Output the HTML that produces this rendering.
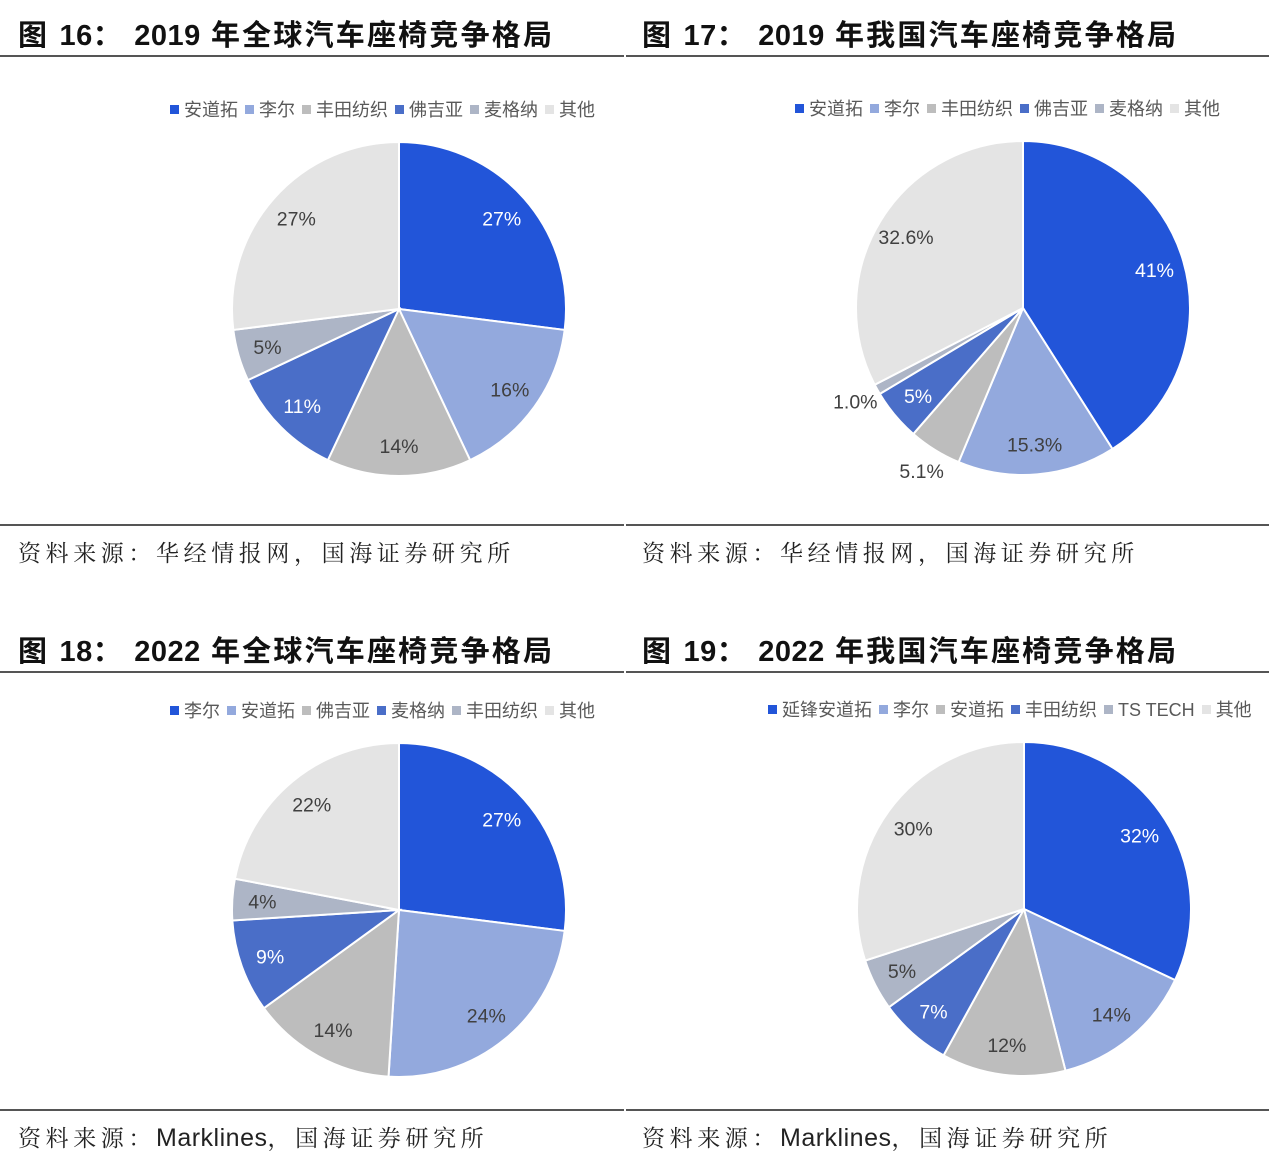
<!DOCTYPE html>
<html><head><meta charset="utf-8">
<style>
body{margin:0;background:#fff;width:1269px;height:1162px;overflow:hidden;position:relative;font-family:"Liberation Sans","Noto Sans CJK SC",sans-serif;}
.t{position:absolute;font-weight:bold;font-size:29px;color:#111;white-space:nowrap;letter-spacing:2.2px;}
.t .d{letter-spacing:0.5px;}
.ln{position:absolute;height:2px;background:#555;}
.src{position:absolute;font-family:"Liberation Serif","Noto Serif CJK SC",serif;font-size:23px;color:#222;white-space:nowrap;letter-spacing:4.6px;}
.src .m{font-family:"Liberation Sans",sans-serif;letter-spacing:0.5px;font-size:25px;}
.lg{position:absolute;font-size:18px;color:#595959;white-space:nowrap;font-family:"Liberation Sans","Noto Sans CJK SC",sans-serif;}
.lg span.sw{display:inline-block;width:9px;height:9px;margin:0 5px 0 7px;vertical-align:2px;}
svg{position:absolute;left:0;top:0;}
</style></head><body>
<div class="t" style="left:18px;top:12px">图 <span class="d">16</span>： <span class="d">2019</span> 年全球汽车座椅竞争格局</div>
<div class="t" style="left:642px;top:12px">图 <span class="d">17</span>： <span class="d">2019</span> 年我国汽车座椅竞争格局</div>
<div class="t" style="left:18px;top:628px">图 <span class="d">18</span>： <span class="d">2022</span> 年全球汽车座椅竞争格局</div>
<div class="t" style="left:642px;top:628px">图 <span class="d">19</span>： <span class="d">2022</span> 年我国汽车座椅竞争格局</div>
<div class="ln" style="left:0;width:624px;top:55px"></div>
<div class="ln" style="left:626px;width:643px;top:55px"></div>
<div class="ln" style="left:0;width:624px;top:524px"></div>
<div class="ln" style="left:626px;width:643px;top:524px"></div>
<div class="ln" style="left:0;width:624px;top:671px"></div>
<div class="ln" style="left:626px;width:643px;top:671px"></div>
<div class="ln" style="left:0;width:624px;top:1109px"></div>
<div class="ln" style="left:626px;width:643px;top:1109px"></div>
<div class="src" style="left:18px;top:535px">资料来源：华经情报网，国海证券研究所</div>
<div class="src" style="left:642px;top:535px">资料来源：华经情报网，国海证券研究所</div>
<div class="src" style="left:18px;top:1120px">资料来源：<span class="m">Marklines</span>，国海证券研究所</div>
<div class="src" style="left:642px;top:1120px">资料来源：<span class="m">Marklines</span>，国海证券研究所</div>
<svg width="1269" height="1162" id="sv"></svg>
<script>
const colors=["#2255D9","#93A9DD","#BDBDBD","#4A6EC8","#ADB5C6","#E4E4E4"];
const names1=["安道拓","李尔","丰田纺织","佛吉亚","麦格纳","其他"];
const vals1=[27,16,14,11,5,27];
const labels1=["27%","16%","14%","11%","5%","27%"];
const names2=["安道拓","李尔","丰田纺织","佛吉亚","麦格纳","其他"];
const vals2=[41,15.3,5.1,5,1.0,32.6];
const labels2=["41%","15.3%","5.1%","5%","1.0%","32.6%"];
const names3=["李尔","安道拓","佛吉亚","麦格纳","丰田纺织","其他"];
const vals3=[27,24,14,9,4,22];
const labels3=["27%","24%","14%","9%","4%","22%"];
const names4=["延锋安道拓","李尔","安道拓","丰田纺织","TS TECH","其他"];
const vals4=[32,14,12,7,5,30];
const labels4=["32%","14%","12%","7%","5%","30%"];
const NS="http://www.w3.org/2000/svg";
const sv=document.getElementById('sv');
function pie(id,cx,cy,r,vals,labels,names,lgX,lgY){
  const tot=vals.reduce((a,b)=>a+b,0);
  let a0=0;
  vals.forEach((v,i)=>{
    const a1=a0+v/tot*2*Math.PI;
    const p=document.createElementNS(NS,'path');
    const x0=cx+r*Math.sin(a0),y0=cy-r*Math.cos(a0),x1=cx+r*Math.sin(a1),y1=cy-r*Math.cos(a1);
    p.setAttribute('d',`M${cx},${cy}L${x0},${y0}A${r},${r} 0 ${a1-a0>Math.PI?1:0} 1 ${x1},${y1}Z`);
    p.setAttribute('fill',colors[i]);p.setAttribute('stroke','#fff');p.setAttribute('stroke-width','2');
    
    
    sv.appendChild(p);
    const m=(a0+a1)/2;const small=v/tot<0.055&&i!==3&&i!==4||(v/tot<0.02);
    const rr=small? r*1.15 : r*0.82;
    const t=document.createElementNS(NS,'text');
    t.setAttribute('x',cx+rr*Math.sin(m));t.setAttribute('y',cy-rr*Math.cos(m)+7);
    t.setAttribute('text-anchor','middle');t.setAttribute('font-size','19.5');
    t.setAttribute('font-family','"Liberation Sans",sans-serif');
    t.setAttribute('fill',(!small&&(i===0||i===3))?'#fff':'#404040');
    t.textContent=labels[i];
    
    
    sv.appendChild(t);
    a0=a1;
  });
  const lg=document.createElement('div');lg.className='lg';
  lg.style.left=lgX+'px';lg.style.top=lgY+'px';
  
  
  names.forEach((n,i)=>{const s=document.createElement('span');s.className='sw';s.style.background=colors[i];lg.appendChild(s);
    const tx=document.createElement('span');tx.textContent=n;
    
    
    lg.appendChild(tx);});
  document.body.appendChild(lg);
}
pie('fig16',399,309,167,vals1,labels1,names1,163,96);
pie('fig17',1023,308,167,vals2,labels2,names2,788,95);
pie('fig18',399,910,167,vals3,labels3,names3,163,697);
pie('fig19',1024,909,167,vals4,labels4,names4,761,696);
</script>
</body></html>
